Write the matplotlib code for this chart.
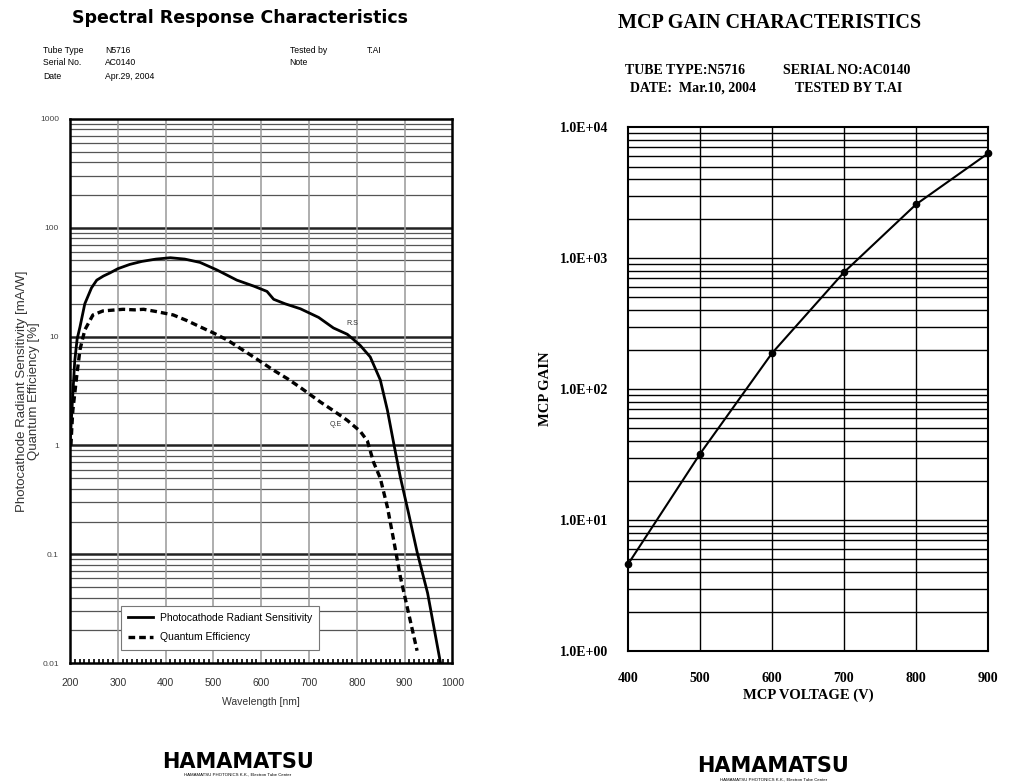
import numpy as np
import matplotlib
matplotlib.use("Agg")
import matplotlib.pyplot as plt
from matplotlib.ticker import FixedLocator, NullFormatter

# spectral response (left chart)
wl_rs = [200, 205, 210, 215, 221, 231, 245, 256, 270, 284, 300, 325, 350, 380,
         410, 440, 472, 507, 549, 585, 612, 626, 650, 682, 720, 751, 780, 793,
         807, 828, 849, 864, 877, 891, 908, 926, 948, 975]
rs = [1.0, 2.5, 6.0, 9.5, 12.3, 20, 28, 33, 36, 38.5, 42, 46, 49, 51.5,
      53, 51.5, 48, 41, 33, 29, 26, 22, 20, 18, 15, 12, 10.5, 9.4,
      8.3, 6.5, 4.0, 2.1, 1.05, 0.51, 0.24, 0.105, 0.044, 0.01]

wl_qe = [202, 204, 206, 210, 214, 221, 231, 248, 269, 290, 311, 335, 354, 380,
         416, 445, 472, 500, 529, 556, 584, 626, 655, 682, 724, 750, 780, 807,
         822, 835, 849, 864, 877, 891, 908, 926]
qe = [1.0, 1.5, 2.1, 3.0, 4.3, 7.6, 11.5, 15.8, 17.2, 17.5, 17.8, 17.6, 17.8,
      17.0, 15.8, 14.0, 12.3, 10.8, 9.3, 7.8, 6.5, 4.9, 4.1, 3.4, 2.5, 2.1,
      1.7, 1.35, 1.1, 0.7, 0.5, 0.27, 0.135, 0.062, 0.029, 0.013]

x_ticks_left = [200, 300, 400, 500, 600, 700, 800, 900, 1000]
y_ticks_left = [0.01, 0.1, 1, 10, 100, 1000]
y_labels_left = ["0.01", "0.1", "1", "10", "100", "1000"]

# MCP gain (right chart)
volt = [400, 500, 600, 700, 800, 900]
gain = [4.6, 32, 188, 780, 2570, 6300]
y_ticks_right = [1, 10, 100, 1000, 10000]
y_labels_right = ["1.0E+00", "1.0E+01", "1.0E+02", "1.0E+03", "1.0E+04"]

fig = plt.figure(figsize=(10.2, 7.82), dpi=100)
fig.patch.set_facecolor("white")

sans = ["Liberation Sans", "DejaVu Sans"]
wide = ["DejaVu Sans"]
serif = ["Liberation Serif", "DejaVu Serif"]

# ---------------- left chart ----------------
ax1 = fig.add_axes([0.0686, 0.152, 0.375, 0.696])
ax1.set_yscale("log")
ax1.set_xlim(200, 1000)
ax1.set_ylim(0.01, 1000)

minor_y = [m * 10.0 ** e for e in range(-2, 3) for m in range(2, 10)]
for v in minor_y:
    ax1.axhline(v, color="#555555", lw=0.9, zorder=1)
for v in y_ticks_left[1:-1]:
    ax1.axhline(v, color="#222222", lw=1.8, zorder=1)
for v in x_ticks_left[1:-1]:
    ax1.axvline(v, color="#999999", lw=1.1, zorder=1)

ax1.plot(wl_rs, rs, color="black", lw=2.0, zorder=3,
         label="Photocathode Radiant Sensitivity")
ax1.plot(wl_qe, qe, color="black", lw=2.4, ls=(0, (2.0, 1.2)), zorder=3,
         label="Quantum Efficiency")

ax1.text(790, 13.3, "R.S", fontsize=5, family=sans, color="#333333", ha="center", va="center")
ax1.text(755, 1.55, "Q.E", fontsize=5, family=sans, color="#333333", ha="center", va="center")

ax1.set_xticks(x_ticks_left)
ax1.set_xticklabels([str(v) for v in x_ticks_left], family=sans, fontsize=7.5, color="#333333")
ax1.xaxis.set_minor_locator(FixedLocator(np.arange(200, 1001, 10)))
ax1.tick_params(axis="x", which="major", length=0, pad=11)
ax1.tick_params(axis="x", which="minor", direction="in", length=3, width=1.2, top=False)
ax1.yaxis.set_major_locator(FixedLocator(y_ticks_left))
ax1.set_yticklabels(y_labels_left, family=sans, fontsize=6, color="#444444")
ax1.yaxis.set_minor_locator(FixedLocator(minor_y))
ax1.yaxis.set_minor_formatter(NullFormatter())
ax1.tick_params(axis="y", which="both", length=0, pad=8)
for s in ax1.spines.values():
    s.set_linewidth(1.8)

ax1.set_xlabel("Wavelength [nm]", family=sans, fontsize=7.5, color="#333333", labelpad=6)
ax1.set_ylabel("Photocathode Radiant Sensitivity [mA/W]\nQuantum Efficiency [%]",
               family=sans, fontsize=9.5, color="#333333", labelpad=0, linespacing=1.0)

leg = ax1.legend(loc="lower left", bbox_to_anchor=(0.12, 0.015),
                 prop={"family": sans, "size": 7.5}, fancybox=False, framealpha=1,
                 edgecolor="#777777", handlelength=2.4, borderpad=0.7,
                 labelspacing=0.9, handletextpad=0.6)
leg.get_frame().set_linewidth(0.8)

fig.text(0.235, 0.977, "Spectral Response Characteristics", ha="center", va="center",
         family=wide, fontsize=12.5, fontweight="bold")
info_left = [("Tube Type", "N5716", 0.936), ("Serial No.", "AC0140", 0.920),
             ("Date", "Apr.29, 2004", 0.902)]
for lab, val, yy in info_left:
    fig.text(0.042, yy, lab, family=sans, fontsize=6.2, va="center")
    fig.text(0.103, yy, val, family=sans, fontsize=6.2, va="center")
fig.text(0.284, 0.936, "Tested by", family=sans, fontsize=6.2, va="center")
fig.text(0.360, 0.936, "T.AI", family=sans, fontsize=6.2, va="center")
fig.text(0.284, 0.920, "Note", family=sans, fontsize=6.2, va="center")

# ---------------- right chart ----------------
ax2 = fig.add_axes([0.6157, 0.1675, 0.353, 0.670])
ax2.set_yscale("log")
ax2.set_xlim(400, 900)
ax2.set_ylim(1, 10000)

minor_r = [m * 10.0 ** e for e in range(0, 4) for m in range(2, 10)]
for v in minor_r + y_ticks_right[1:-1]:
    ax2.axhline(v, color="black", lw=1.0, zorder=1)
for v in volt[1:-1]:
    ax2.axvline(v, color="black", lw=1.0, zorder=1)

ax2.plot(volt, gain, color="black", lw=1.5, marker="o", ms=4.5, zorder=3, clip_on=False)

ax2.set_xticks(volt)
ax2.set_xticklabels([str(v) for v in volt], family=serif, fontsize=10, fontweight="bold")
ax2.tick_params(axis="x", length=0, pad=15)
ax2.yaxis.set_major_locator(FixedLocator(y_ticks_right))
ax2.set_yticklabels(y_labels_right, family=serif, fontsize=10, fontweight="bold")
ax2.yaxis.set_minor_locator(FixedLocator(minor_r))
ax2.yaxis.set_minor_formatter(NullFormatter())
ax2.tick_params(axis="y", which="both", length=0, pad=14)
for s in ax2.spines.values():
    s.set_linewidth(1.5)

ax2.set_xlabel("MCP VOLTAGE (V)", family=serif, fontsize=10.5, fontweight="bold", labelpad=3)
ax2.set_ylabel("MCP GAIN", family=serif, fontsize=10.5, fontweight="bold", labelpad=6)

fig.text(0.754, 0.971, "MCP GAIN CHARACTERISTICS", ha="center", va="center",
         family=serif, fontsize=14.5, fontweight="bold")
fig.text(0.613, 0.910, "TUBE TYPE:N5716", family=serif, fontsize=10, fontweight="bold", va="center")
fig.text(0.768, 0.910, "SERIAL NO:AC0140", family=serif, fontsize=10, fontweight="bold", va="center")
fig.text(0.618, 0.887, "DATE:  Mar.10, 2004", family=serif, fontsize=10, fontweight="bold", va="center")
fig.text(0.779, 0.887, "TESTED BY T.AI", family=serif, fontsize=10, fontweight="bold", va="center")

# logos
for xc, yc in [(0.233, 0.026), (0.758, 0.020)]:
    fig.text(xc, yc, "HAMAMATSU", ha="center", va="center", family=wide,
             fontsize=15, fontweight="bold")
for xc, yc in [(0.233, 0.009), (0.758, 0.003)]:
    fig.text(xc, yc, "HAMAMATSU PHOTONICS K.K., Electron Tube Center", ha="center",
             va="center", family=sans, fontsize=3.2)

fig.savefig("out.png", dpi=100, facecolor="white")
